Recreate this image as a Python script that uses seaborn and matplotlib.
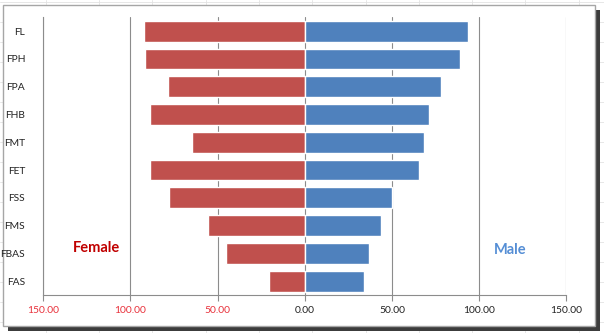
import numpy as np
import pandas as pd
import seaborn as sns
import matplotlib
matplotlib.use("Agg")
import matplotlib.pyplot as plt
from matplotlib.patches import Rectangle
from matplotlib.lines import Line2D
from matplotlib.ticker import FuncFormatter

# Category rows, top to bottom
categories = ["FL", "FPH", "FPA", "FHB", "FMT", "FET", "FSS", "FMS", "FBAS", "FAS"]
female = [92.4, 91.5, 78.5, 88.6, 64.7, 88.6, 77.7, 55.5, 45.2, 20.7]
male = [93.6, 89.1, 77.9, 71.3, 68.6, 65.6, 50.0, 43.7, 37.1, 33.9]
x_ticks = [-150, -100, -50, 0, 50, 100, 150]

RED = "#C0504D"
BLUE = "#4F81BD"
TICK_RED = "#E8303A"

df = pd.concat([
    pd.DataFrame({"category": categories, "value": [-v for v in female], "sex": "Female"}),
    pd.DataFrame({"category": categories, "value": male, "sex": "Male"}),
])

sns.set_theme(style="white")
plt.rcParams["font.family"] = ["Lato", "DejaVu Sans"]

W, H = 604, 333
fig = plt.figure(figsize=(W / 100, H / 100), dpi=100)
fig.patch.set_facecolor("white")

# spreadsheet cell lines behind the chart frame
for x in np.arange(45.7 - 53.3, W, 53.3):
    fig.add_artist(Line2D([x / W, x / W], [0, 1], color="#E3E3E3", lw=0.6, zorder=-5))
for y in np.arange(2, H, 20):
    fig.add_artist(Line2D([0, 1], [1 - y / H, 1 - y / H], color="#E3E3E3", lw=0.6, zorder=-5))

# chart frame with drop shadow
fig.add_artist(Rectangle((8 / W, 1 - 331 / H), (600 - 8) / W, (331 - 10) / H,
                         facecolor="#3C3C3C", edgecolor="none", zorder=-3))
fig.add_artist(Rectangle((3 / W, 1 - 326 / H), (595 - 3) / W, (326 - 5) / H,
                         facecolor="white", edgecolor="#A6A6A6", lw=1.0, zorder=-2))

left, right, top, bottom = 43.3, 566.3, 17.3, 295
ax = fig.add_axes([left / W, 1 - bottom / H, (right - left) / W, (bottom - top) / H])
ax.set_facecolor("none")

sns.barplot(data=df, x="value", y="category", hue="sex", order=categories,
            palette={"Female": RED, "Male": BLUE}, dodge=False, width=0.75,
            saturation=1, legend=False, ax=ax, zorder=3)

ax.set_xlim(-150, 150)
ax.set_xticks(x_ticks)
ax.xaxis.set_major_formatter(FuncFormatter(lambda v, p: f"{abs(v):.2f}"))
ax.grid(axis="x", color="#8C8C8C", lw=0.8, zorder=0)
ax.set_axisbelow(True)
ax.set_xlabel("")
ax.set_ylabel("")

for s in ["top", "right"]:
    ax.spines[s].set_visible(False)
for s in ["left", "bottom"]:
    ax.spines[s].set_color("#8C8C8C")
    ax.spines[s].set_linewidth(0.8)

ax.tick_params(axis="x", bottom=True, length=4, width=0.8, color="#8C8C8C",
               pad=4, labelsize=7.4)
ax.tick_params(axis="y", left=False, pad=7, labelsize=7.4, labelcolor="#222222")
for lbl, v in zip(ax.get_xticklabels(), x_ticks):
    lbl.set_color(TICK_RED if v < 0 else "#222222")

ax.text(-119.5, 7.81, "Female", color="#C00000", fontsize=10.5, fontweight="bold",
        ha="center", va="center")
ax.text(117.7, 7.88, "Male", color="#558ED5", fontsize=10.5, fontweight="bold",
        ha="center", va="center")

fig.savefig("out.png", dpi=100)
